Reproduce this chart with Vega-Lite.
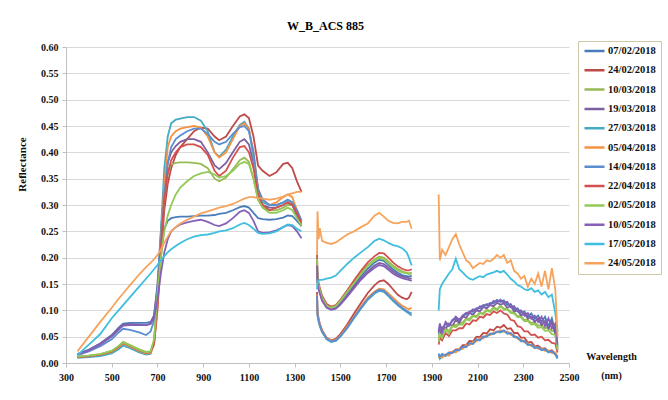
{
"$schema":"https://vega.github.io/schema/vega-lite/v6.json",
"width":503,"height":316,
"autosize":{"type":"none"},
"padding":{"left":66,"top":47,"right":99,"bottom":37},
"background":"white",
"title":{"text":"W_B_ACS 885","font":"Times New Roman","fontSize":12,"fontWeight":"bold","color":"#000","offset":8,"anchor":"middle","frame":"group","dx":8},
"datasets":{"names":[
{"k":"a","date":"07/02/2018"},{"k":"b","date":"24/02/2018"},{"k":"c","date":"10/03/2018"},{"k":"d","date":"19/03/2018"},{"k":"e","date":"27/03/2018"},{"k":"f","date":"05/04/2018"},{"k":"g","date":"14/04/2018"},{"k":"h","date":"22/04/2018"},{"k":"i","date":"02/05/2018"},{"k":"j","date":"10/05/2018"},{"k":"k","date":"17/05/2018"},{"k":"l","date":"24/05/2018"}]},
"data":{"values":[
{"w":350,"s":1,"a":0.017,"b":0.011,"c":0.012,"d":0.017,"e":0.010,"f":0.011,"g":0.015,"h":0.011,"i":0.012,"j":0.016,"k":0.015,"l":0.022},
{"w":400,"s":1,"a":0.025,"b":0.013,"c":0.014,"d":0.025,"e":0.011,"f":0.013,"g":0.022,"h":0.013,"i":0.014,"j":0.024,"k":0.035,"l":0.05},
{"w":450,"s":1,"a":0.037,"b":0.016,"c":0.017,"d":0.037,"e":0.013,"f":0.016,"g":0.032,"h":0.016,"i":0.017,"j":0.035,"k":0.055,"l":0.078},
{"w":500,"s":1,"a":0.053,"b":0.021,"c":0.023,"d":0.052,"e":0.018,"f":0.021,"g":0.045,"h":0.022,"i":0.023,"j":0.050,"k":0.085,"l":0.105},
{"w":530,"s":1,"a":0.067,"b":0.030,"c":0.032,"d":0.065,"e":0.026,"f":0.030,"g":0.058,"h":0.031,"i":0.032,"j":0.063,"k":0.10,"l":0.122},
{"w":550,"s":1,"a":0.075,"b":0.038,"c":0.040,"d":0.073,"e":0.033,"f":0.037,"g":0.065,"h":0.038,"i":0.039,"j":0.071,"k":0.11,"l":0.132},
{"w":580,"s":1,"a":0.076,"b":0.032,"c":0.034,"d":0.074,"e":0.028,"f":0.031,"g":0.063,"h":0.032,"i":0.033,"j":0.072,"k":0.125,"l":0.148},
{"w":620,"s":1,"a":0.076,"b":0.024,"c":0.026,"d":0.073,"e":0.020,"f":0.023,"g":0.058,"h":0.024,"i":0.025,"j":0.072,"k":0.145,"l":0.168},
{"w":650,"s":1,"a":0.076,"b":0.019,"c":0.021,"d":0.072,"e":0.016,"f":0.018,"g":0.053,"h":0.019,"i":0.020,"j":0.072,"k":0.16,"l":0.182},
{"w":670,"s":1,"a":0.078,"b":0.020,"c":0.022,"d":0.075,"e":0.017,"f":0.019,"g":0.06,"h":0.021,"i":0.022,"j":0.074,"k":0.17,"l":0.19},
{"w":685,"s":1,"a":0.09,"b":0.035,"c":0.04,"d":0.09,"e":0.04,"f":0.035,"g":0.08,"h":0.037,"i":0.045,"j":0.085,"k":0.178,"l":0.197},
{"w":700,"s":1,"a":0.14,"b":0.10,"c":0.11,"d":0.15,"e":0.12,"f":0.11,"g":0.14,"h":0.11,"i":0.13,"j":0.12,"k":0.186,"l":0.205},
{"w":715,"s":1,"a":0.21,"b":0.20,"c":0.22,"d":0.25,"e":0.25,"f":0.23,"g":0.23,"h":0.22,"i":0.20,"j":0.17,"k":0.195,"l":0.215},
{"w":730,"s":1,"a":0.255,"b":0.29,"c":0.31,"d":0.33,"e":0.37,"f":0.34,"g":0.32,"h":0.31,"i":0.25,"j":0.21,"k":0.203,"l":0.228},
{"w":745,"s":1,"a":0.27,"b":0.34,"c":0.36,"d":0.38,"e":0.43,"f":0.41,"g":0.38,"h":0.36,"i":0.28,"j":0.235,"k":0.21,"l":0.24},
{"w":760,"s":1,"a":0.275,"b":0.37,"c":0.377,"d":0.40,"e":0.455,"f":0.43,"g":0.41,"h":0.385,"i":0.30,"j":0.25,"k":0.216,"l":0.25},
{"w":780,"s":1,"a":0.277,"b":0.395,"c":0.38,"d":0.412,"e":0.462,"f":0.44,"g":0.425,"h":0.40,"i":0.32,"j":0.258,"k":0.222,"l":0.258},
{"w":800,"s":1,"a":0.278,"b":0.41,"c":0.381,"d":0.42,"e":0.464,"f":0.445,"g":0.432,"h":0.41,"i":0.333,"j":0.263,"k":0.228,"l":0.265},
{"w":830,"s":1,"a":0.278,"b":0.425,"c":0.381,"d":0.425,"e":0.467,"f":0.448,"g":0.44,"h":0.415,"i":0.345,"j":0.267,"k":0.235,"l":0.272},
{"w":860,"s":1,"a":0.279,"b":0.44,"c":0.38,"d":0.425,"e":0.467,"f":0.45,"g":0.445,"h":0.415,"i":0.355,"j":0.27,"k":0.24,"l":0.278},
{"w":890,"s":1,"a":0.28,"b":0.447,"c":0.378,"d":0.42,"e":0.46,"f":0.447,"g":0.445,"h":0.41,"i":0.36,"j":0.272,"k":0.243,"l":0.284},
{"w":920,"s":1,"a":0.28,"b":0.445,"c":0.37,"d":0.40,"e":0.44,"f":0.43,"g":0.435,"h":0.395,"i":0.363,"j":0.268,"k":0.244,"l":0.288},
{"w":950,"s":1,"a":0.281,"b":0.43,"c":0.35,"d":0.375,"e":0.40,"f":0.40,"g":0.42,"h":0.365,"i":0.358,"j":0.262,"k":0.247,"l":0.292},
{"w":970,"s":1,"a":0.283,"b":0.423,"c":0.345,"d":0.368,"e":0.392,"f":0.39,"g":0.415,"h":0.355,"i":0.352,"j":0.26,"k":0.25,"l":0.295},
{"w":1000,"s":1,"a":0.285,"b":0.43,"c":0.352,"d":0.38,"e":0.405,"f":0.40,"g":0.42,"h":0.365,"i":0.355,"j":0.265,"k":0.252,"l":0.298},
{"w":1030,"s":1,"a":0.29,"b":0.45,"c":0.368,"d":0.40,"e":0.43,"f":0.425,"g":0.435,"h":0.39,"i":0.365,"j":0.275,"k":0.256,"l":0.302},
{"w":1060,"s":1,"a":0.296,"b":0.468,"c":0.385,"d":0.42,"e":0.452,"f":0.45,"g":0.448,"h":0.41,"i":0.378,"j":0.287,"k":0.263,"l":0.308},
{"w":1080,"s":1,"a":0.298,"b":0.472,"c":0.39,"d":0.425,"e":0.458,"f":0.455,"g":0.45,"h":0.412,"i":0.382,"j":0.29,"k":0.266,"l":0.312},
{"w":1100,"s":1,"a":0.295,"b":0.465,"c":0.382,"d":0.415,"e":0.445,"f":0.445,"g":0.44,"h":0.40,"i":0.378,"j":0.285,"k":0.262,"l":0.315},
{"w":1120,"s":1,"a":0.285,"b":0.43,"c":0.35,"d":0.38,"e":0.39,"f":0.40,"g":0.40,"h":0.37,"i":0.35,"j":0.27,"k":0.255,"l":0.315},
{"w":1140,"s":1,"a":0.275,"b":0.375,"c":0.31,"d":0.32,"e":0.33,"f":0.33,"g":0.33,"h":0.32,"i":0.31,"j":0.25,"k":0.247,"l":0.313},
{"w":1160,"s":1,"a":0.273,"b":0.365,"c":0.295,"d":0.30,"e":0.305,"f":0.31,"g":0.31,"h":0.30,"i":0.295,"j":0.247,"k":0.245,"l":0.312},
{"w":1190,"s":1,"a":0.272,"b":0.355,"c":0.29,"d":0.295,"e":0.30,"f":0.30,"g":0.30,"h":0.29,"i":0.285,"j":0.248,"k":0.246,"l":0.31},
{"w":1220,"s":1,"a":0.273,"b":0.362,"c":0.29,"d":0.295,"e":0.30,"f":0.305,"g":0.30,"h":0.295,"i":0.285,"j":0.252,"k":0.25,"l":0.312},
{"w":1250,"s":1,"a":0.276,"b":0.378,"c":0.295,"d":0.30,"e":0.305,"f":0.315,"g":0.305,"h":0.30,"i":0.29,"j":0.258,"k":0.258,"l":0.316},
{"w":1270,"s":1,"a":0.28,"b":0.38,"c":0.30,"d":0.305,"e":0.31,"f":0.32,"g":0.31,"h":0.305,"i":0.295,"j":0.262,"k":0.263,"l":0.32},
{"w":1290,"s":1,"a":0.279,"b":0.37,"c":0.30,"d":0.30,"e":0.305,"f":0.315,"g":0.305,"h":0.30,"i":0.29,"j":0.26,"k":0.262,"l":0.322},
{"w":1310,"s":1,"a":0.27,"b":0.345,"c":0.28,"d":0.28,"e":0.29,"f":0.29,"g":0.29,"h":0.285,"i":0.275,"j":0.25,"k":0.255,"l":0.325},
{"w":1330,"s":1,"a":0.26,"b":0.325,"c":0.265,"d":0.26,"e":0.27,"f":0.27,"g":0.27,"h":0.265,"i":0.26,"j":0.237,"k":0.25,"l":0.325},
{"w":1398,"s":2,"a":0.195,"b":0.135,"c":0.20,"d":0.19,"e":0.125,"f":0.13,"g":0.128,"h":0.205,"i":0.198,"j":0.185,"k":0.14,"l":0.205},
{"w":1400,"s":2,"a":0.158,"b":0.098,"c":0.16,"d":0.155,"e":0.09,"f":0.093,"g":0.092,"h":0.165,"i":0.16,"j":0.15,"k":0.155,"l":0.288},
{"w":1405,"s":2,"a":0.146,"b":0.084,"c":0.148,"d":0.143,"e":0.078,"f":0.081,"g":0.08,"h":0.152,"i":0.147,"j":0.139,"k":0.157,"l":0.235},
{"w":1410,"s":2,"a":0.138,"b":0.075,"c":0.14,"d":0.135,"e":0.07,"f":0.073,"g":0.072,"h":0.143,"i":0.139,"j":0.132,"k":0.158,"l":0.256},
{"w":1420,"s":2,"a":0.123,"b":0.062,"c":0.125,"d":0.12,"e":0.058,"f":0.06,"g":0.06,"h":0.128,"i":0.124,"j":0.118,"k":0.158,"l":0.232},
{"w":1440,"s":2,"a":0.108,"b":0.048,"c":0.11,"d":0.106,"e":0.045,"f":0.047,"g":0.046,"h":0.112,"i":0.109,"j":0.105,"k":0.16,"l":0.228},
{"w":1460,"s":2,"a":0.104,"b":0.043,"c":0.106,"d":0.102,"e":0.04,"f":0.042,"g":0.041,"h":0.107,"i":0.105,"j":0.101,"k":0.162,"l":0.226},
{"w":1480,"s":2,"a":0.107,"b":0.046,"c":0.109,"d":0.104,"e":0.042,"f":0.044,"g":0.043,"h":0.11,"i":0.108,"j":0.103,"k":0.166,"l":0.229},
{"w":1500,"s":2,"a":0.116,"b":0.055,"c":0.119,"d":0.112,"e":0.05,"f":0.052,"g":0.051,"h":0.12,"i":0.118,"j":0.111,"k":0.175,"l":0.235},
{"w":1530,"s":2,"a":0.132,"b":0.073,"c":0.136,"d":0.128,"e":0.066,"f":0.069,"g":0.067,"h":0.138,"i":0.135,"j":0.126,"k":0.188,"l":0.244},
{"w":1560,"s":2,"a":0.149,"b":0.094,"c":0.154,"d":0.145,"e":0.085,"f":0.088,"g":0.087,"h":0.157,"i":0.152,"j":0.142,"k":0.2,"l":0.25},
{"w":1590,"s":2,"a":0.165,"b":0.114,"c":0.171,"d":0.161,"e":0.103,"f":0.107,"g":0.105,"h":0.175,"i":0.169,"j":0.158,"k":0.21,"l":0.258},
{"w":1620,"s":2,"a":0.179,"b":0.133,"c":0.186,"d":0.174,"e":0.12,"f":0.124,"g":0.122,"h":0.191,"i":0.184,"j":0.171,"k":0.22,"l":0.265},
{"w":1650,"s":2,"a":0.191,"b":0.148,"c":0.197,"d":0.185,"e":0.132,"f":0.136,"g":0.134,"h":0.203,"i":0.195,"j":0.181,"k":0.232,"l":0.28},
{"w":1670,"s":2,"a":0.196,"b":0.155,"c":0.202,"d":0.19,"e":0.137,"f":0.141,"g":0.139,"h":0.209,"i":0.199,"j":0.186,"k":0.236,"l":0.285},
{"w":1690,"s":2,"a":0.194,"b":0.157,"c":0.2,"d":0.188,"e":0.135,"f":0.14,"g":0.137,"h":0.208,"i":0.197,"j":0.184,"k":0.233,"l":0.278},
{"w":1710,"s":2,"a":0.186,"b":0.15,"c":0.193,"d":0.181,"e":0.127,"f":0.132,"g":0.129,"h":0.2,"i":0.19,"j":0.177,"k":0.228,"l":0.27},
{"w":1730,"s":2,"a":0.178,"b":0.14,"c":0.185,"d":0.174,"e":0.118,"f":0.124,"g":0.12,"h":0.191,"i":0.182,"j":0.17,"k":0.224,"l":0.266},
{"w":1750,"s":2,"a":0.172,"b":0.13,"c":0.179,"d":0.168,"e":0.11,"f":0.116,"g":0.112,"h":0.184,"i":0.176,"j":0.165,"k":0.222,"l":0.265},
{"w":1770,"s":2,"a":0.167,"b":0.124,"c":0.174,"d":0.164,"e":0.103,"f":0.109,"g":0.105,"h":0.179,"i":0.172,"j":0.161,"k":0.218,"l":0.268},
{"w":1790,"s":2,"a":0.165,"b":0.121,"c":0.171,"d":0.162,"e":0.097,"f":0.104,"g":0.099,"h":0.176,"i":0.17,"j":0.159,"k":0.21,"l":0.268},
{"w":1800,"s":2,"a":0.164,"b":0.124,"c":0.17,"d":0.161,"e":0.094,"f":0.102,"g":0.096,"h":0.176,"i":0.169,"j":0.158,"k":0.2,"l":0.27},
{"w":1812,"s":2,"a":0.166,"b":0.135,"c":0.172,"d":0.16,"e":0.09,"f":0.105,"g":0.094,"h":0.178,"i":0.17,"j":0.156,"k":0.185,"l":0.255},
{"w":1930,"s":3,"a":0.055,"b":0.012,"c":0.045,"d":0.065,"e":0.015,"f":0.01,"g":0.018,"h":0.035,"i":0.04,"j":0.06,"k":0.10,"l":0.32},
{"w":1935,"s":3,"a":0.07,"b":0.01,"c":0.06,"d":0.055,"e":0.008,"f":0.012,"g":0.012,"h":0.048,"i":0.055,"j":0.075,"k":0.14,"l":0.195},
{"w":1945,"s":3,"a":0.064,"b":0.016,"c":0.052,"d":0.068,"e":0.014,"f":0.01,"g":0.017,"h":0.043,"i":0.048,"j":0.058,"k":0.15,"l":0.215},
{"w":1960,"s":3,"a":0.075,"b":0.014,"c":0.067,"d":0.065,"e":0.013,"f":0.016,"g":0.015,"h":0.057,"i":0.064,"j":0.078,"k":0.16,"l":0.205},
{"w":1975,"s":3,"a":0.07,"b":0.02,"c":0.06,"d":0.075,"e":0.018,"f":0.014,"g":0.019,"h":0.051,"i":0.056,"j":0.072,"k":0.17,"l":0.22},
{"w":1990,"s":3,"a":0.082,"b":0.02,"c":0.072,"d":0.07,"e":0.019,"f":0.022,"g":0.019,"h":0.062,"i":0.07,"j":0.08,"k":0.178,"l":0.235},
{"w":2005,"s":3,"a":0.084,"b":0.026,"c":0.072,"d":0.082,"e":0.024,"f":0.02,"g":0.025,"h":0.062,"i":0.068,"j":0.088,"k":0.198,"l":0.245},
{"w":2020,"s":3,"a":0.08,"b":0.026,"c":0.075,"d":0.076,"e":0.024,"f":0.027,"g":0.024,"h":0.066,"i":0.073,"j":0.082,"k":0.178,"l":0.225},
{"w":2035,"s":3,"a":0.09,"b":0.034,"c":0.077,"d":0.088,"e":0.03,"f":0.027,"g":0.031,"h":0.066,"i":0.073,"j":0.09,"k":0.172,"l":0.21},
{"w":2050,"s":3,"a":0.092,"b":0.034,"c":0.084,"d":0.086,"e":0.031,"f":0.034,"g":0.03,"h":0.075,"i":0.083,"j":0.095,"k":0.165,"l":0.195},
{"w":2065,"s":3,"a":0.098,"b":0.042,"c":0.084,"d":0.095,"e":0.037,"f":0.034,"g":0.038,"h":0.073,"i":0.081,"j":0.096,"k":0.16,"l":0.19},
{"w":2080,"s":3,"a":0.097,"b":0.041,"c":0.091,"d":0.092,"e":0.037,"f":0.04,"g":0.036,"h":0.081,"i":0.089,"j":0.102,"k":0.158,"l":0.18},
{"w":2095,"s":3,"a":0.104,"b":0.05,"c":0.089,"d":0.1,"e":0.044,"f":0.041,"g":0.045,"h":0.08,"i":0.087,"j":0.1,"k":0.162,"l":0.185},
{"w":2110,"s":3,"a":0.104,"b":0.049,"c":0.096,"d":0.098,"e":0.044,"f":0.047,"g":0.043,"h":0.088,"i":0.095,"j":0.108,"k":0.165,"l":0.19},
{"w":2125,"s":3,"a":0.11,"b":0.057,"c":0.094,"d":0.106,"e":0.05,"f":0.047,"g":0.05,"h":0.086,"i":0.092,"j":0.107,"k":0.163,"l":0.188},
{"w":2140,"s":3,"a":0.109,"b":0.056,"c":0.102,"d":0.104,"e":0.05,"f":0.053,"g":0.05,"h":0.093,"i":0.1,"j":0.112,"k":0.168,"l":0.195},
{"w":2155,"s":3,"a":0.114,"b":0.064,"c":0.098,"d":0.11,"e":0.055,"f":0.053,"g":0.056,"h":0.091,"i":0.097,"j":0.11,"k":0.17,"l":0.193},
{"w":2170,"s":3,"a":0.113,"b":0.062,"c":0.106,"d":0.108,"e":0.055,"f":0.058,"g":0.055,"h":0.098,"i":0.104,"j":0.118,"k":0.172,"l":0.198},
{"w":2185,"s":3,"a":0.12,"b":0.069,"c":0.102,"d":0.114,"e":0.059,"f":0.058,"g":0.06,"h":0.095,"i":0.1,"j":0.115,"k":0.175,"l":0.205},
{"w":2200,"s":3,"a":0.116,"b":0.067,"c":0.109,"d":0.111,"e":0.058,"f":0.062,"g":0.059,"h":0.1,"i":0.108,"j":0.12,"k":0.172,"l":0.2},
{"w":2215,"s":3,"a":0.119,"b":0.072,"c":0.103,"d":0.113,"e":0.061,"f":0.059,"g":0.062,"h":0.094,"i":0.101,"j":0.114,"k":0.175,"l":0.205},
{"w":2230,"s":3,"a":0.11,"b":0.065,"c":0.103,"d":0.105,"e":0.056,"f":0.06,"g":0.056,"h":0.092,"i":0.102,"j":0.116,"k":0.168,"l":0.19},
{"w":2245,"s":3,"a":0.112,"b":0.066,"c":0.097,"d":0.108,"e":0.056,"f":0.054,"g":0.057,"h":0.082,"i":0.095,"j":0.106,"k":0.16,"l":0.195},
{"w":2260,"s":3,"a":0.102,"b":0.057,"c":0.096,"d":0.098,"e":0.049,"f":0.053,"g":0.05,"h":0.08,"i":0.094,"j":0.108,"k":0.155,"l":0.175},
{"w":2275,"s":3,"a":0.104,"b":0.057,"c":0.089,"d":0.1,"e":0.048,"f":0.046,"g":0.049,"h":0.07,"i":0.087,"j":0.098,"k":0.148,"l":0.17},
{"w":2290,"s":3,"a":0.095,"b":0.048,"c":0.089,"d":0.09,"e":0.041,"f":0.045,"g":0.042,"h":0.068,"i":0.087,"j":0.1,"k":0.145,"l":0.16},
{"w":2305,"s":3,"a":0.098,"b":0.048,"c":0.082,"d":0.094,"e":0.041,"f":0.039,"g":0.042,"h":0.06,"i":0.079,"j":0.09,"k":0.14,"l":0.165},
{"w":2320,"s":3,"a":0.088,"b":0.039,"c":0.082,"d":0.084,"e":0.034,"f":0.038,"g":0.035,"h":0.06,"i":0.08,"j":0.095,"k":0.138,"l":0.145},
{"w":2335,"s":3,"a":0.094,"b":0.04,"c":0.076,"d":0.088,"e":0.034,"f":0.032,"g":0.035,"h":0.053,"i":0.073,"j":0.084,"k":0.142,"l":0.16},
{"w":2350,"s":3,"a":0.084,"b":0.032,"c":0.077,"d":0.078,"e":0.028,"f":0.032,"g":0.029,"h":0.054,"i":0.074,"j":0.09,"k":0.135,"l":0.15},
{"w":2365,"s":3,"a":0.09,"b":0.033,"c":0.071,"d":0.085,"e":0.03,"f":0.027,"g":0.03,"h":0.048,"i":0.067,"j":0.078,"k":0.138,"l":0.17},
{"w":2380,"s":3,"a":0.078,"b":0.027,"c":0.072,"d":0.072,"e":0.024,"f":0.028,"g":0.025,"h":0.05,"i":0.068,"j":0.088,"k":0.13,"l":0.145},
{"w":2395,"s":3,"a":0.088,"b":0.028,"c":0.066,"d":0.08,"e":0.026,"f":0.023,"g":0.026,"h":0.043,"i":0.061,"j":0.07,"k":0.135,"l":0.175},
{"w":2410,"s":3,"a":0.07,"b":0.022,"c":0.067,"d":0.065,"e":0.02,"f":0.024,"g":0.021,"h":0.044,"i":0.062,"j":0.085,"k":0.125,"l":0.14},
{"w":2425,"s":3,"a":0.085,"b":0.024,"c":0.061,"d":0.078,"e":0.022,"f":0.019,"g":0.022,"h":0.038,"i":0.055,"j":0.065,"k":0.13,"l":0.18},
{"w":2440,"s":3,"a":0.06,"b":0.018,"c":0.06,"d":0.055,"e":0.016,"f":0.02,"g":0.017,"h":0.037,"i":0.054,"j":0.075,"k":0.095,"l":0.14},
{"w":2450,"s":3,"a":0.03,"b":0.012,"c":0.03,"d":0.025,"e":0.008,"f":0.012,"g":0.01,"h":0.02,"i":0.025,"j":0.035,"k":0.06,"l":0.05}
]},
"transform":[
{"fold":["a","b","c","d","e","f","g","h","i","j","k","l"],"as":["key","r"]},
{"lookup":"key","from":{"data":{"name":"names"},"key":"k","fields":["date"]}}
],
"mark":{"type":"line","strokeWidth":1.8},
"encoding":{
"x":{"field":"w","type":"quantitative","scale":{"domain":[300,2500],"nice":false,"zero":false},
"axis":{"values":[300,500,700,900,1100,1300,1500,1700,1900,2100,2300,2500],"format":"d","grid":false,
"labelFont":"Times New Roman","labelFontSize":10,"labelFontWeight":"bold","labelColor":"#111","labelPadding":5,"labelFlush":false,
"domainColor":"#bfbfbf","tickColor":"#bfbfbf","tickSize":4,
"title":["Wavelength","(nm)"],"titleFont":"Times New Roman","titleFontSize":10,"titleFontWeight":"bold","titleColor":"#111",
"titleX":545,"titleY":-12,"titleAlign":"center","titleBaseline":"top","titleLineHeight":19}},
"y":{"field":"r","type":"quantitative","scale":{"domain":[0,0.6],"nice":false},
"axis":{"values":[0,0.05,0.1,0.15,0.2,0.25,0.3,0.35,0.4,0.45,0.5,0.55,0.6],"format":".2f","grid":true,"gridColor":"#d9d9d9",
"labelFont":"Times New Roman","labelFontSize":10,"labelFontWeight":"bold","labelColor":"#111","labelPadding":4,
"domainColor":"#bfbfbf","tickColor":"#bfbfbf","tickSize":4,
"title":"Reflectance","titleFont":"Times New Roman","titleFontSize":11,"titleFontWeight":"bold","titleColor":"#111",
"titleX":-44,"titleY":117,"titleAlign":"center","titleBaseline":"middle","titleAngle":-90}},
"color":{"field":"date","type":"nominal",
"scale":{"domain":["07/02/2018","24/02/2018","10/03/2018","19/03/2018","27/03/2018","05/04/2018","14/04/2018","22/04/2018","02/05/2018","10/05/2018","17/05/2018","24/05/2018"],
"range":["#4A7EBB","#BE4B48","#98B954","#7D60A0","#46AAC5","#F69240","#5A8ED0","#D4504E","#92C957","#8660B8","#3FBEDD","#F6A35C"]},
"legend":{"orient":"none","legendX":512,"legendY":-6,"title":null,"symbolType":"stroke","symbolSize":400,"symbolStrokeWidth":2.5,
"labelFont":"Times New Roman","labelFontSize":10.5,"labelFontWeight":"bold","labelColor":"#111","labelOffset":2,
"strokeColor":"#cfc8a6","fillColor":"#ffffff","padding":5,"rowPadding":8.3,"clipHeight":10}},
"detail":{"field":"s","type":"nominal"}
},
"config":{"view":{"stroke":null}}
}
